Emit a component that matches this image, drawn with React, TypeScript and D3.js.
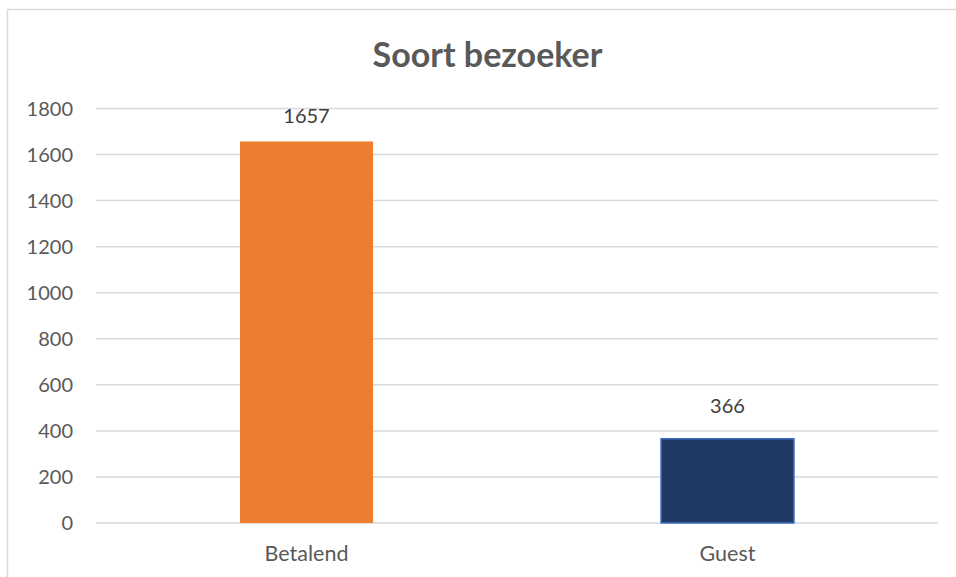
import React, { useEffect } from "react";
import * as d3 from "d3";

const categories = ["Betalend", "Guest"];
const values = [1657, 366];
const yTicks = [0, 200, 400, 600, 800, 1000, 1200, 1400, 1600, 1800];
const title = "Soort bezoeker";

const W = 956;
const H = 577;
const fills = ["#ED7D31", "#203864"];
const strokes = ["none", "#4472C4"];
const labelGap = [18, 26];

export default function App() {
  useEffect(() => {
    document.body.style.margin = "0";
  }, []);

  const left = 96;
  const right = 938;
  const top = 108.5;
  const bottom = 523;

  const x = d3.scaleBand<string>().domain(categories).range([left, right]).paddingInner(0).paddingOuter(0);
  const y = d3.scaleLinear().domain([0, 1800]).range([bottom, top]);
  const barW = 133;
  const font = "Lato, 'Open Sans', sans-serif";

  return (
    <svg width={W} height={H} style={{ display: "block" }} fontFamily={font}>
      <rect x={0} y={0} width={W} height={H} fill="#fff" />
      <rect x={7.5} y={9.5} width={W + 20} height={H + 20} fill="none" stroke="#d9d9d9" strokeWidth={1.5} />
      <text x={(371 + 604) / 2} y={67} textAnchor="middle" fontSize={34} fontWeight="bold" fill="#595959">
        {title}
      </text>
      {yTicks.map((t) => (
        <g key={t}>
          <line x1={left} x2={right} y1={y(t)} y2={y(t)} stroke="#d9d9d9" strokeWidth={1.5} />
          <text x={73} y={y(t)} dy="0.36em" textAnchor="end" fontSize={20} fill="#595959">
            {t}
          </text>
        </g>
      ))}
      {categories.map((c, i) => {
        const cx = (x(c) as number) + x.bandwidth() / 2;
        const yt = y(values[i]);
        return (
          <g key={c}>
            <rect
              x={cx - barW / 2}
              y={yt}
              width={barW}
              height={bottom - yt}
              fill={fills[i]}
              stroke={strokes[i]}
              strokeWidth={strokes[i] === "none" ? 0 : 1.5}
            />
            <text x={cx} y={yt - labelGap[i]} textAnchor="middle" fontSize={20} fill="#404040">
              {values[i]}
            </text>
            <text x={cx} y={561} textAnchor="middle" fontSize={21.5} fill="#595959">
              {c}
            </text>
          </g>
        );
      })}
    </svg>
  );
}
